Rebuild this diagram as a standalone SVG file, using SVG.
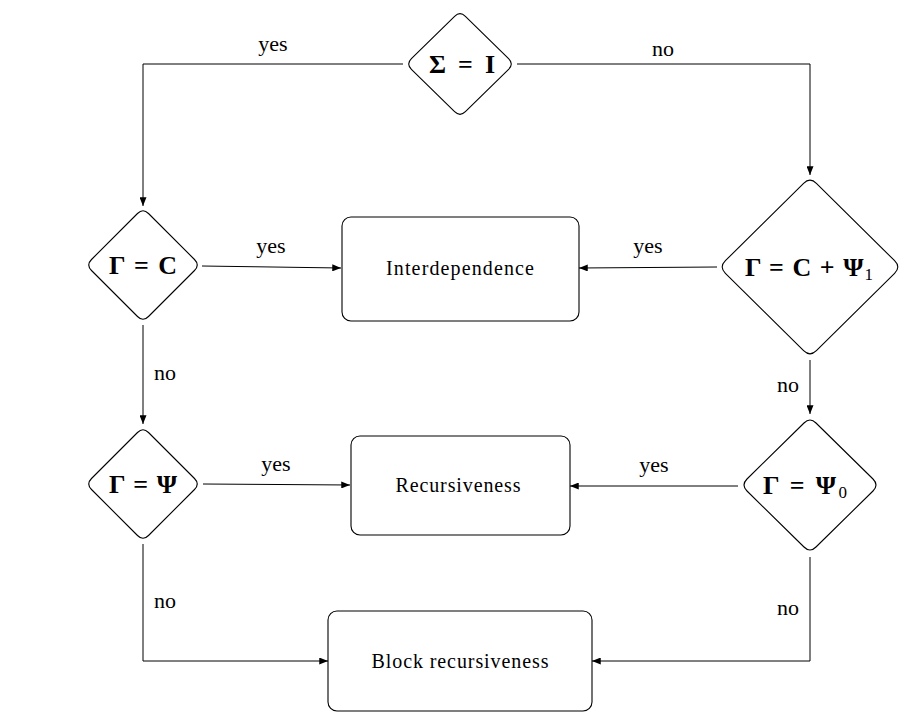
<svg xmlns="http://www.w3.org/2000/svg" width="912" height="720" viewBox="0 0 912 720" font-family="Liberation Serif">
<style>
.shape{fill:#fff;stroke:#000;stroke-width:1.1}
.line{fill:none;stroke:#000;stroke-width:1}
</style>
<defs>
<marker id="arr" viewBox="0 0 10 8" refX="10" refY="4" markerWidth="9" markerHeight="7" markerUnits="userSpaceOnUse" orient="auto">
<path d="M0,0 L10,4 L0,8 Z" fill="#000"/>
</marker>
</defs>
<g id="connectors">
<path class="line" d="M403,64 H143 V206" marker-end="url(#arr)"/>
<path class="line" d="M517,64 H810 V175" marker-end="url(#arr)"/>
<path class="line" d="M202,266 L341,268" marker-end="url(#arr)"/>
<path class="line" d="M717,267 L579,268" marker-end="url(#arr)"/>
<path class="line" d="M143,325 V424" marker-end="url(#arr)"/>
<path class="line" d="M810,360 V414" marker-end="url(#arr)"/>
<path class="line" d="M203,484 L350,485" marker-end="url(#arr)"/>
<path class="line" d="M738,486 L570,486" marker-end="url(#arr)"/>
<path class="line" d="M143,544 V661 H328" marker-end="url(#arr)"/>
<path class="line" d="M810,557 V661 H592" marker-end="url(#arr)"/>
<text x="273" y="51" font-family="Liberation Serif" font-size="22" text-anchor="middle">yes</text>
<text x="663" y="56" font-family="Liberation Serif" font-size="22" text-anchor="middle">no</text>
<text x="271" y="253" font-family="Liberation Serif" font-size="22" text-anchor="middle">yes</text>
<text x="648" y="253" font-family="Liberation Serif" font-size="22" text-anchor="middle">yes</text>
<text x="165" y="380" font-family="Liberation Serif" font-size="22" text-anchor="middle">no</text>
<text x="788" y="392" font-family="Liberation Serif" font-size="22" text-anchor="middle">no</text>
<text x="276" y="471" font-family="Liberation Serif" font-size="22" text-anchor="middle">yes</text>
<text x="654" y="472" font-family="Liberation Serif" font-size="22" text-anchor="middle">yes</text>
<text x="165" y="608" font-family="Liberation Serif" font-size="22" text-anchor="middle">no</text>
<text x="788" y="615" font-family="Liberation Serif" font-size="22" text-anchor="middle">no</text>
</g>
<g id="n_sigma">
<path class="shape" d="M454.6,16.3 Q460,11 465.4,16.3 L508.6,58.7 Q514,64 508.6,69.3 L465.4,111.7 Q460,117 454.6,111.7 L411.4,69.3 Q406,64 411.4,58.7 Z"/>
<text x="462" y="73" font-family="Liberation Serif" font-weight="bold" font-size="26" text-anchor="middle" textLength="66">Σ = I</text>
</g>
<g id="n_gc">
<path class="shape" d="M137.5,213.5 Q143,208 148.5,213.5 L194.5,259.5 Q200,265 194.5,270.5 L148.5,316.5 Q143,322 137.5,316.5 L91.5,270.5 Q86,265 91.5,259.5 Z"/>
<text x="143" y="274" font-family="Liberation Serif" font-weight="bold" font-size="26" text-anchor="middle" textLength="68">Γ = C</text>
</g>
<g id="n_gcpsi1">
<path class="shape" d="M803.6,183.3 Q810,177 816.4,183.3 L894.6,260.7 Q901,267 894.6,273.3 L816.4,350.7 Q810,357 803.6,350.7 L725.4,273.3 Q719,267 725.4,260.7 Z"/>
<text x="809" y="276" font-family="Liberation Serif" font-weight="bold" font-size="26" text-anchor="middle" textLength="128">Γ = C + Ψ<tspan font-weight="normal" font-size="17" dy="4">1</tspan></text>
</g>
<g id="n_inter">
<rect class="shape" x="342" y="217" width="237" height="104" rx="9"/>
<text x="460" y="275" font-family="Liberation Serif" font-size="20" text-anchor="middle" textLength="148">Interdependence</text>
</g>
<g id="n_gpsi">
<path class="shape" d="M137.5,432.5 Q143,427 148.5,432.5 L194.5,478.5 Q200,484 194.5,489.5 L148.5,535.5 Q143,541 137.5,535.5 L91.5,489.5 Q86,484 91.5,478.5 Z"/>
<text x="143" y="493" font-family="Liberation Serif" font-weight="bold" font-size="26" text-anchor="middle" textLength="68">Γ = Ψ</text>
</g>
<g id="n_rec">
<rect class="shape" x="351" y="436" width="219" height="99" rx="9"/>
<text x="458" y="492" font-family="Liberation Serif" font-size="20" text-anchor="middle" textLength="125">Recursiveness</text>
</g>
<g id="n_gpsi0">
<path class="shape" d="M804,423 Q810,417 816,423 L873,479 Q879,485 873,491 L816,547 Q810,553 804,547 L747,491 Q741,485 747,479 Z"/>
<text x="805" y="494" font-family="Liberation Serif" font-weight="bold" font-size="26" text-anchor="middle" textLength="84">Γ = Ψ<tspan font-weight="normal" font-size="17" dy="4">0</tspan></text>
</g>
<g id="n_block">
<rect class="shape" x="328" y="611" width="264" height="100" rx="9"/>
<text x="460" y="668" font-family="Liberation Serif" font-size="20" text-anchor="middle" textLength="177">Block recursiveness</text>
</g>
</svg>
